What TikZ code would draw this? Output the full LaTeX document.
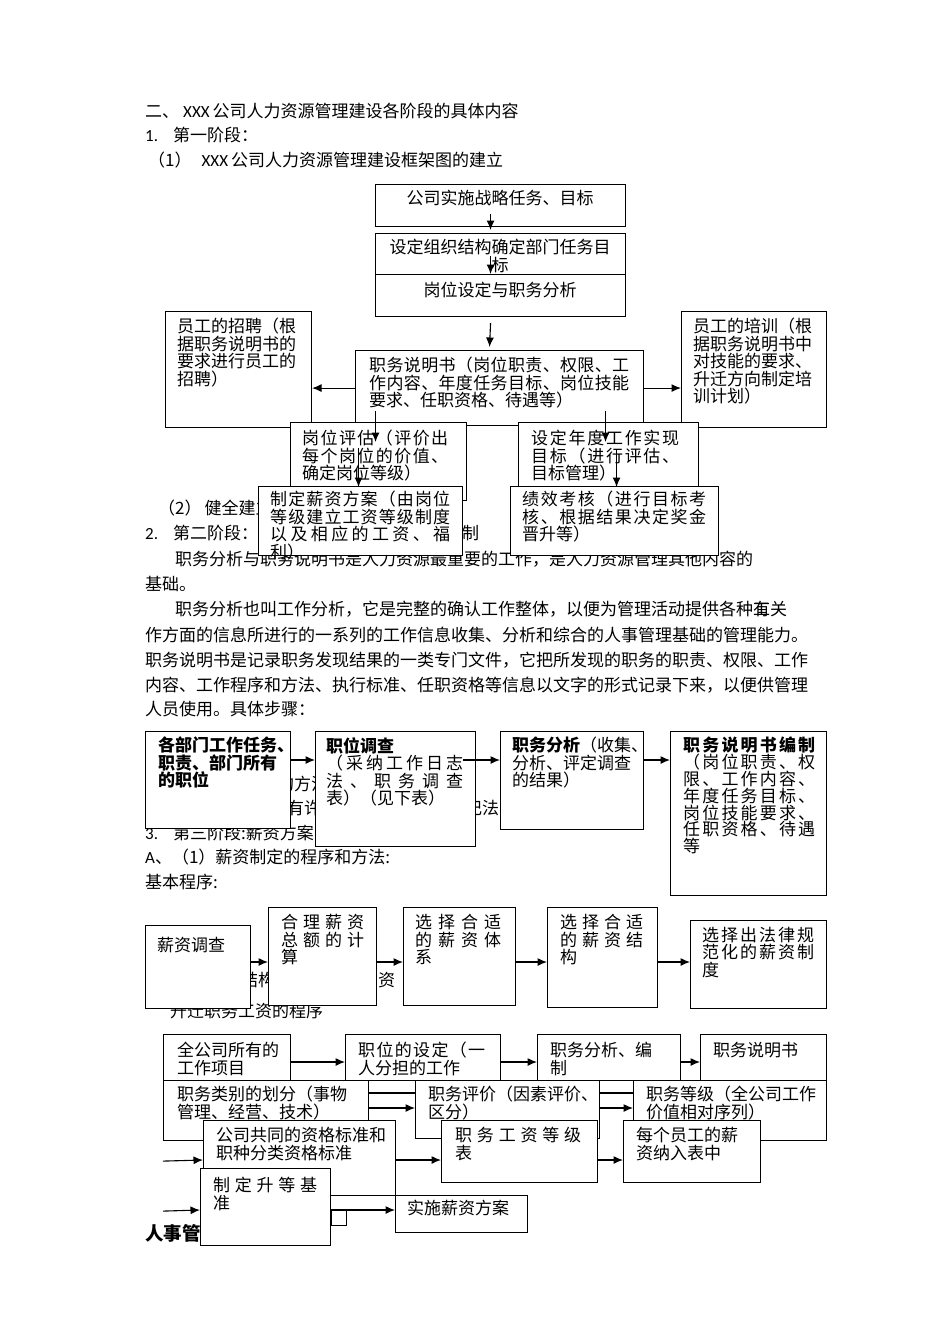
\documentclass[tikz,border=0pt]{standalone}
\usepackage{fontspec}
\setmainfont{Noto Sans CJK SC}
\newfontfamily\lat{Carlito}
\usetikzlibrary{arrows.meta}
% spread the characters of one line over a given width
\def\sprloop#1{\ifx\relax#1\else\hfil#1\expandafter\sprloop\fi}
\def\sprgo#1{#1\sprloop}
\newcommand{\spr}[2]{\makebox[#1][s]{\sprgo#2\relax}}

\tikzset{
  pbox/.style={draw, fill=white, line width=1.1pt, inner sep=0pt, anchor=north west},
  btext/.style={anchor=north west, inner sep=0pt, align=left, font=\fontsize{17}{17.5}\selectfont},
  ctext/.style={anchor=north, inner sep=0pt, align=center, font=\fontsize{17}{17.5}\selectfont},
  ptext/.style={anchor=west, inner sep=0pt, font=\fontsize{17}{20}\selectfont},
  arr/.style={-{Latex[length=9.5pt,width=8pt]}, line width=1.1pt},
}

\begin{document}
\begin{tikzpicture}[x=1pt,y=-1pt]
	\fill[white] (0,0) rectangle (950,1344);
	\path[use as bounding box] (0,0) rectangle (950,1344);
%	running text
	\node[ptext] (t1) at (145,111) {二、\hspace{4pt}{\lat XXX}\hspace{3pt}公司人力资源管理建设各阶段的具体内容};
	\node[ptext] (t2) at (145,135) {{\lat 1.}\hspace{15pt}第一阶段：};
	\node[ptext] (t3) at (148,160) {（1）\hspace{10pt}{\lat XXX}\hspace{3pt}公司人力资源管理建设框架图的建立};
	\node[ptext] (t4) at (158,508) {（2）\hspace{3pt}健全建立};
	\node[ptext] (t5) at (145,533) {{\lat 2.}\hspace{15pt}第二阶段：职务分析与职务说明书的编制};
	\node[ptext] (t6) at (175,559) {职务分析与职务说明书是人力资源最重要的工作，是人力资源管理其他内容的};
	\node[ptext] (t7) at (145,584) {基础。};
	\node[ptext] (t8) at (175,609) {\spr{612pt}{职务分析也叫工作分析，它是完整的确认工作整体，以便为管理活动提供各种{\rlap{工}有}关}};
	\node[ptext] (t9) at (145,635) {作方面的信息所进行的一系列的工作信息收集、分析和综合的人事管理基础的管理能力。};
	\node[ptext] (t10) at (145,660) {职务说明书是记录职务发现结果的一类专门文件，它把所发现的职务的职责、权限、工作};
	\node[ptext] (t11) at (145,685) {内容、工作程序和方法、执行标准、任职资格等信息以文字的形式记录下来，以便供管理};
	\node[ptext] (t12) at (145,709) {人员使用。具体步骤：};
	\node[ptext] (t13) at (277,784) {的方法};
	\node[ptext] (t14) at (287,808) {有许多};
	\node[ptext] (t15) at (465,808) {记法};
	\node[ptext] (t16) at (145,833) {{\lat 3.}\hspace{15pt}第三阶段:薪资方案的};
	\node[ptext] (t17) at (145,857) {{\lat A}、（1）薪资制定的程序和方法:};
	\node[ptext] (t18) at (145,882) {基本程序:};
	\node[ptext] (t19) at (241,980) {结构};
	\node[ptext] (t20) at (378,980) {资};
	\node[ptext] (t21) at (170,1011) {升迁职务工资的程序};
	\node[ptext, font=\fontsize{18.5}{20}\selectfont\bfseries] (t22) at (145,1233) {人事管理};

%	framework of the first stage
	\node[pbox, minimum width=250, minimum height=42] (strat) at (375,184) {};
	\node[ctext] (strat-t) at (500,190) {公司实施战略任务、目标};
	\node[pbox, minimum width=250, minimum height=41] (org) at (375,233) {};
	\node[ctext] (org-t) at (500,239) {设定组织结构确定部门任务目\\标};
	\node[pbox, minimum width=250, minimum height=42] (post) at (375,274) {};
	\node[ctext] (post-t) at (500,282) {岗位设定与职务分析};
	\node[pbox, minimum width=146, minimum height=116] (hire) at (165,311) {};
	\node[btext] (hire-t) at (177,318) {员工的招聘（根\\据职务说明书的\\要求进行员工的\\招聘）};
	\node[pbox, minimum width=145, minimum height=116] (train) at (681,311) {};
	\node[btext] (train-t) at (693,318) {员工的培训（根\\据职务说明书中\\对技能的要求、\\升迁方向制定培\\训计划）};
	\node[pbox, minimum width=288, minimum height=75] (spec) at (355,350) {};
	\node[btext] (spec-t) at (369,357) {\spr{260pt}{职务说明书（岗位职责、权限、工}\\\spr{260pt}{作内容、年度任务目标、岗位技能}\\要求、任职资格、待遇等）};
	\node[pbox, minimum width=176, minimum height=78] (eval) at (290,422) {};
	\node[btext] (eval-t) at (302,430) {\spr{146pt}{岗位评估（评价出}\\\spr{146pt}{每个岗位的价值、}\\确定岗位等级）};
	\node[pbox, minimum width=180, minimum height=78] (goal) at (518,422) {};
	\node[btext] (goal-t) at (531,430) {\spr{148pt}{设定年度工作实现}\\\spr{148pt}{目标（进行评估、}\\目标管理）};
	\node[pbox, minimum width=204, minimum height=69] (pay) at (258,486) {};
	\node[btext] (pay-t) at (270,491) {\spr{180pt}{制定薪资方案（由岗位}\\\spr{180pt}{等级建立工资等级制度}\\\spr{180pt}{以及相应的工资、福}\\利）};
	\node[pbox, minimum width=208, minimum height=69] (perf) at (510,486) {};
	\node[btext] (perf-t) at (522,491) {\spr{184pt}{绩效考核（进行目标考}\\\spr{184pt}{核、根据结果决定奖金}\\晋升等）};
	\draw[arr] ([xshift=-10pt,yshift=13pt]strat.south) -- ([xshift=-10pt,yshift=3pt]org.north);
	\draw[arr] ([xshift=-10pt,yshift=19pt]org.south) -- ([xshift=-10pt]post.north);
	\draw[arr] ([xshift=-10pt,yshift=-6pt]post.south) -- ([xshift=-10pt,yshift=3pt]spec.north);
	\draw[arr] (spec.west) -- (spec.west -| hire.east);
	\draw[arr] (spec.east) -- (spec.east -| train.west);
	\draw[arr] ([xshift=-124pt,yshift=15pt]spec.south) -- ([xshift=-3pt,yshift=-20pt]eval.north);
	\draw[arr] ([xshift=-20pt,yshift=-26pt]eval.north) -- ([xshift=-2pt,yshift=-1pt]pay.north);
	\draw[arr] ([xshift=106pt,yshift=15pt]spec.south) -- ([xshift=-3pt,yshift=-20pt]goal.north);
	\draw[arr] ([xshift=8pt,yshift=-28pt]goal.north) -- ([xshift=2pt,yshift=-1pt]perf.north);

%	steps of the job analysis
	\node[pbox, minimum width=145, minimum height=97] (s1) at (145,731) {};
	\node[btext, font=\fontsize{17}{17.5}\selectfont\bfseries] (s1-t) at (158,737) {各部门工作任务、\\职责、部门所有\\的职位};
	\node[pbox, minimum width=160, minimum height=115] (s2) at (315,731) {};
	\node[btext] (s2-t) at (326,737) {\textbf{职位调查}\\\spr{137pt}{（采纳工作日志}\\\spr{137pt}{法、职务调查}\\表）（见下表）};
	\node[pbox, minimum width=143, minimum height=98] (s3) at (500,731) {};
	\node[btext] (s3-t) at (512,737) {\textbf{职务分析}（收集、\\分析、评定调查\\的结果）};
	\node[pbox, minimum width=156, minimum height=164] (s4) at (670,731) {};
	\node[btext, font=\fontsize{17}{16.8}\selectfont] (s4-t) at (683,737) {{\bfseries\spr{132pt}{职务说明书编制}}\\\spr{132pt}{（岗位职责、权}\\\spr{132pt}{限、工作内容、}\\\spr{132pt}{年度任务目标、}\\\spr{132pt}{岗位技能要求、}\\\spr{132pt}{任职资格、待遇}\\等};
	\draw[arr] ([yshift=-29pt]s1.north east) -- ([yshift=-29pt]s2.north west);
	\draw[arr] ([xshift=-13pt,yshift=-29pt]s2.north east) -- ([yshift=-29pt]s3.north west);
	\draw[arr] ([yshift=-29pt]s3.north east) -- ([yshift=-29pt]s4.north west);

%	basic program of the pay scheme
	\node[pbox, minimum width=105, minimum height=83] (p1) at (145,925) {};
	\node[btext] (p1-t) at (157,937) {薪资调查};
	\node[pbox, minimum width=108, minimum height=98] (p2) at (268,907) {};
	\node[btext] (p2-t) at (281,914) {\spr{83pt}{合理薪资}\\\spr{83pt}{总额的计}\\算};
	\node[pbox, minimum width=112, minimum height=98] (p3) at (403,907) {};
	\node[btext] (p3-t) at (415,914) {\spr{86pt}{选择合适}\\\spr{86pt}{的薪资体}\\系};
	\node[pbox, minimum width=110, minimum height=100] (p4) at (547,907) {};
	\node[btext] (p4-t) at (560,914) {\spr{83pt}{选择合适}\\\spr{83pt}{的薪资结}\\构};
	\node[pbox, minimum width=136, minimum height=88] (p5) at (690,920) {};
	\node[btext] (p5-t) at (702,927) {\spr{112pt}{选择出法律规}\\\spr{112pt}{范化的薪资制}\\度};
	\draw[arr] ([yshift=-37pt]p1.north east) -- ([yshift=-55pt]p2.north west);
	\draw[arr] ([yshift=-55pt]p2.north east) -- ([yshift=-55pt]p3.north west);
	\draw[arr] ([yshift=-55pt]p3.north east) -- ([yshift=-55pt]p4.north west);
	\draw[arr] ([yshift=-55pt]p4.north east) -- ([yshift=-42pt]p5.north west);

%	job grade program
	\node[pbox, minimum width=127, minimum height=46] (q1) at (163,1034) {};
	\node[btext] (q1-t) at (177,1042) {全公司所有的\\工作项目};
	\node[pbox, minimum width=155, minimum height=46] (q2) at (345,1034) {};
	\node[btext] (q2-t) at (358,1042) {\spr{127pt}{职位的设定（一}\\人分担的工作};
	\node[pbox, minimum width=143, minimum height=46] (q3) at (537,1034) {};
	\node[btext] (q3-t) at (550,1042) {职务分析、编\\制};
	\node[pbox, minimum width=126, minimum height=46] (q4) at (700,1034) {};
	\node[btext] (q4-t) at (713,1042) {职务说明书};
	\node[pbox, minimum width=205, minimum height=60] (r1) at (163,1080) {};
	\node[btext] (r1-t) at (177,1086) {职务类别的划分（事物\\管理、经营、技术）};
	\node[pbox, minimum width=184, minimum height=58] (r2) at (415,1080) {};
	\node[btext] (r2-t) at (428,1086) {职务评价（因素评价、\\区分）};
	\node[pbox, minimum width=193, minimum height=60] (r3) at (633,1080) {};
	\node[btext] (r3-t) at (646,1086) {职务等级（全公司工作\\价值相对序列）};
	\node[pbox, minimum width=192, minimum height=75] (t1box) at (203,1120) {};
	\node[btext] (t1box-t) at (216,1127) {公司共同的资格标准和\\职种分类资格标准};
	\node[pbox, minimum width=156, minimum height=62] (t2box) at (441,1120) {};
	\node[btext] (t2box-t) at (455,1127) {\spr{126pt}{职务工资等级}\\表};
	\node[pbox, minimum width=137, minimum height=62] (t3box) at (623,1120) {};
	\node[btext] (t3box-t) at (636,1127) {每个员工的薪\\资纳入表中};
	\node[pbox, minimum width=130, minimum height=77] (u1) at (200,1168) {};
	\node[btext] (u1-t) at (213,1177) {\spr{104pt}{制定升等基}\\准};
	\node[pbox, minimum width=15, minimum height=15] (stub) at (u1.north east |- 0,1210) {};
	\node[pbox, minimum width=132, minimum height=37] (u2) at (395,1195) {};
	\node[btext] (u2-t) at (407,1200) {实施薪资方案};
	\draw[arr] ([yshift=-28pt]q1.north east) -- ([yshift=-28pt]q2.north west);
	\draw[arr] ([yshift=-28pt]q2.north east) -- ([yshift=-28pt]q3.north west);
	\draw[arr] ([yshift=-28pt]q3.north east) -- ([yshift=-28pt]q4.north west);
	\draw[line width=1.1pt] ([yshift=-13pt]r1.north east) -- ([yshift=-13pt]r2.north west);
	\draw[arr] ([yshift=-28pt]r1.north east) -- ([yshift=-28pt]r2.north west);
	\draw[line width=1.1pt] ([yshift=-13pt]r2.north east) -- ([yshift=-13pt]r3.north west);
	\draw[arr] ([yshift=-28pt]r2.north east) -- ([yshift=-28pt]r3.north west);
	\draw[arr] ([yshift=-20pt]r1.south west) -- ([yshift=-40pt]t1box.north west);
	\draw[arr] ([yshift=-40pt]t1box.north east) -- ([yshift=-40pt]t2box.north west);
	\draw[arr] ([yshift=-40pt]t2box.north east) -- ([yshift=-40pt]t3box.north west);
	\draw[arr] ([yshift=-70pt]r1.south west) -- ([yshift=-42pt]u1.north west);
	\draw[arr] ([yshift=-42pt]u1.north east) -- ([yshift=-15pt]u2.north west);
\end{tikzpicture}
\end{document}
